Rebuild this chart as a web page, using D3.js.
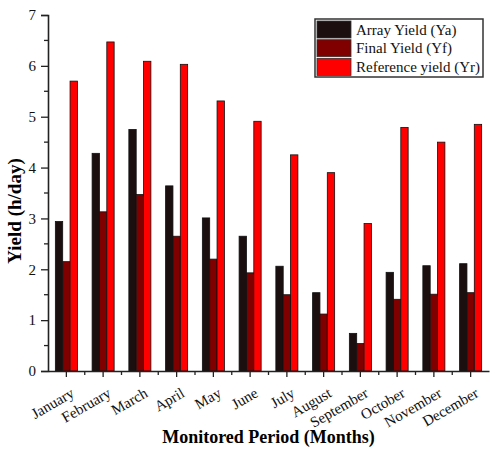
<!DOCTYPE html>
<html>
<head>
<meta charset="utf-8">
<script src="https://cdn.jsdelivr.net/npm/d3@7"></script>
<style>
  body { margin: 0; background: #fff; }
  text { font-family: "Liberation Serif", "Times New Roman", serif; }
</style>
</head>
<body>
<div id="wrapper"></div>
<script>
// Data
const months = ['January', 'February', 'March', 'April', 'May', 'June',
                'July', 'August', 'September', 'October', 'November', 'December']
const seriesNames = ['Array Yield (Ya)', 'Final Yield (Yf)', 'Reference yield (Yr)']
const arrayYield = [2.94, 4.28, 4.75, 3.64, 3.01, 2.65, 2.06, 1.54, 0.74, 1.94, 2.07, 2.11]
const finalYield = [2.15, 3.13, 3.47, 2.65, 2.20, 1.93, 1.50, 1.12, 0.54, 1.41, 1.51, 1.54]
const referenceYield = [5.70, 6.47, 6.09, 6.03, 5.31, 4.91, 4.25, 3.90, 2.90, 4.79, 4.50, 4.85]
const yTicks = [0, 1, 2, 3, 4, 5, 6, 7]

const colors = ['#1b0f10', '#800000', '#ff0000']

const dataset = months.map((m, i) => ({
  month: m,
  values: [arrayYield[i], finalYield[i], referenceYield[i]]
}))

const dimensions = {
  width: 496,
  height: 450,
  margins: { top: 15, right: 7, bottom: 79, left: 48 }
}
dimensions.boundedWidth = dimensions.width - dimensions.margins.left - dimensions.margins.right
dimensions.boundedHeight = dimensions.height - dimensions.margins.top - dimensions.margins.bottom

const wrapper = d3.select('#wrapper').append('svg')
  .attr('width', dimensions.width)
  .attr('height', dimensions.height)

const bounds = wrapper.append('g')
  .attr('transform', `translate(${dimensions.margins.left},${dimensions.margins.top})`)

// Scales
const xScale = d3.scaleBand()
  .domain(months)
  .range([0, dimensions.boundedWidth])
  .paddingInner(0)
  .paddingOuter(0)

const innerScale = d3.scaleBand()
  .domain(d3.range(3))
  .range([xScale.bandwidth() * 0.2, xScale.bandwidth() * 0.8])

const yScale = d3.scaleLinear()
  .domain([0, 7])
  .range([dimensions.boundedHeight, 0])

// Bars
const groups = bounds.selectAll('g.group')
  .data(dataset)
  .enter().append('g')
  .attr('class', 'group')
  .attr('transform', d => `translate(${xScale(d.month)},0)`)

groups.selectAll('rect')
  .data(d => d.values)
  .enter().append('rect')
  .attr('x', (d, i) => innerScale(i))
  .attr('y', d => yScale(d))
  .attr('width', innerScale.bandwidth())
  .attr('height', d => dimensions.boundedHeight - yScale(d))
  .attr('fill', (d, i) => colors[i])
  .attr('stroke', '#111')
  .attr('stroke-width', 0.8)

// Minor ticks
const yMinor = d3.range(0.5, 7, 1)
bounds.append('g')
  .selectAll('line')
  .data(yMinor)
  .enter().append('line')
  .attr('x1', -4).attr('x2', 0)
  .attr('y1', d => yScale(d)).attr('y2', d => yScale(d))
  .attr('stroke', '#222').attr('stroke-width', 1.3)

bounds.append('g')
  .selectAll('line')
  .data(d3.range(1, 12))
  .enter().append('line')
  .attr('x1', d => d * xScale.step()).attr('x2', d => d * xScale.step())
  .attr('y1', dimensions.boundedHeight).attr('y2', dimensions.boundedHeight + 4)
  .attr('stroke', '#222').attr('stroke-width', 1.3)

// Axes
const yAxisGenerator = d3.axisLeft(yScale)
  .tickValues(yTicks)
  .tickFormat(d3.format('d'))
  .tickSize(7)
  .tickPadding(5)
const yAxis = bounds.append('g').call(yAxisGenerator)
yAxis.select('.domain').attr('stroke', '#222').attr('stroke-width', 1.6)
yAxis.selectAll('.tick line').attr('stroke', '#222').attr('stroke-width', 1.3)
yAxis.selectAll('text')
  .style('font-family', '"Liberation Serif", serif')
  .style('font-size', '15px')
  .attr('fill', '#111')

const xAxisGenerator = d3.axisBottom(xScale).tickSize(6).tickSizeOuter(0)
const xAxis = bounds.append('g')
  .attr('transform', `translate(0,${dimensions.boundedHeight})`)
  .call(xAxisGenerator)
xAxis.select('.domain').attr('stroke', '#222').attr('stroke-width', 1.6)
xAxis.selectAll('.tick line').attr('stroke', '#222').attr('stroke-width', 1.3)
xAxis.selectAll('text')
  .style('font-family', '"Liberation Serif", serif')
  .style('font-size', '15px')
  .attr('fill', '#111')
  .attr('text-anchor', 'end')
  .attr('y', 0)
  .attr('dy', 0)
  .attr('transform', 'translate(9,25) rotate(-30)')

// Axis labels
wrapper.append('text')
  .attr('x', dimensions.margins.left + dimensions.boundedWidth / 2)
  .attr('y', 443)
  .attr('text-anchor', 'middle')
  .style('font-size', '18px')
  .style('font-weight', 'bold')
  .text('Monitored Period (Months)')

wrapper.append('text')
  .attr('transform', 'translate(21,211) rotate(-90)')
  .attr('text-anchor', 'middle')
  .style('font-size', '19px')
  .style('font-weight', 'bold')
  .text('Yield (h/day)')

// Legend
const legend = wrapper.append('g')
  .attr('transform', 'translate(315,19)')

legend.append('rect')
  .attr('width', 168).attr('height', 58)
  .attr('fill', '#fff')
  .attr('stroke', '#333').attr('stroke-width', 1.5)

const legendItems = legend.selectAll('g.item')
  .data(seriesNames)
  .enter().append('g')
  .attr('class', 'item')
  .attr('transform', (d, i) => `translate(2,${2 + i * 18.7})`)

legendItems.append('rect')
  .attr('width', 34).attr('height', 17)
  .attr('fill', (d, i) => colors[i])
  .attr('stroke', '#333').attr('stroke-width', 0.8)

legendItems.append('text')
  .attr('x', 39).attr('y', 13.5)
  .style('font-size', '15px')
  .attr('fill', '#111')
  .text(d => d)
</script>
</body>
</html>
